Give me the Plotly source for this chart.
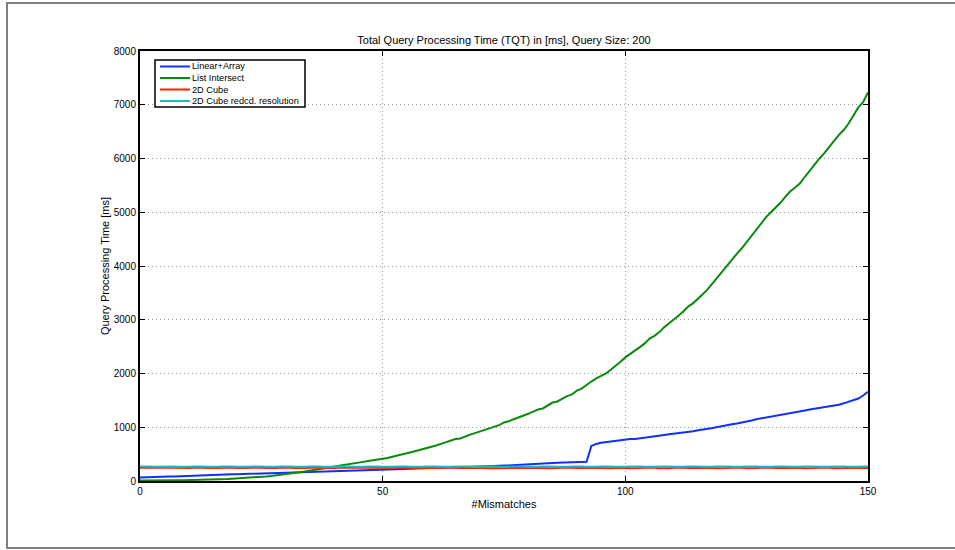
import plotly.graph_objects as go

series_names = ["Linear+Array", "List Intersect", "2D Cube", "2D Cube redcd. resolution"]
series_colors = ["#1030ff", "#0a8a0a", "#ff2000", "#10c0c0"]

linear_array = [
    65, 70, 72, 75, 78, 80, 83, 86, 88, 90, 92,
    95, 98, 100, 103, 106, 110, 116, 120, 124, 127,
    130, 134, 137, 140, 143, 146, 150, 153, 157, 162,
    166, 170, 174, 178, 181, 183, 186, 188, 190, 192,
    194, 196, 198, 200, 203, 205, 208, 212, 216, 220,
    222, 220, 224, 226, 228, 230, 232, 234, 236, 238,
    240, 242, 244, 246, 250, 254, 258, 262, 266, 270,
    272, 275, 278, 282, 286, 290, 292, 295, 298, 302,
    310, 318, 326, 330, 334, 340, 344, 346, 348, 350,
    352, 356, 650, 690, 712, 725, 735, 748, 762, 775,
    780, 782, 792, 805, 815, 822, 838, 855, 868, 878,
    888, 898, 912, 925, 945, 955, 968, 985, 1005, 1025,
    1040, 1055, 1070, 1085, 1100, 1125, 1150, 1165, 1180, 1200,
    1215, 1228, 1245, 1262, 1278, 1290, 1310, 1330, 1345, 1358,
    1368, 1382, 1398, 1420, 1445, 1475, 1505, 1535, 1590, 1660,
]

list_intersect = [
    10, 9, 11, 10, 12, 11, 13, 12, 14, 15, 16,
    18, 20, 21, 23, 25, 28, 31, 35, 40, 45,
    50, 56, 62, 68, 78, 86, 95, 104, 116, 130,
    140, 152, 163, 176, 190, 205, 218, 232, 250, 270,
    282, 296, 310, 326, 342, 356, 370, 382, 396, 410,
    428, 452, 470, 492, 520, 538, 562, 584, 610, 640,
    662, 690, 718, 748, 780, 790, 830, 862, 890, 920,
    952, 985, 1010, 1040, 1090, 1110, 1150, 1180, 1210, 1250,
    1290, 1330, 1350, 1400, 1460, 1480, 1530, 1580, 1610, 1680,
    1720, 1790, 1850, 1910, 1960, 2000, 2070, 2140, 2220, 2300,
    2360, 2430, 2490, 2560, 2650, 2700, 2770, 2860, 2930, 3000,
    3080, 3160, 3250, 3310, 3390, 3480, 3570, 3680, 3800, 3920,
    4020, 4120, 4230, 4330, 4450, 4560, 4680, 4800, 4910, 5000,
    5090, 5180, 5290, 5390, 5460, 5540, 5660, 5780, 5890, 6000,
    6100, 6220, 6330, 6440, 6530, 6650, 6800, 6950, 7050, 7230,
]

cube_2d = [
    245, 248, 244, 240, 243, 247, 250, 246, 241, 238, 242, 246, 249, 245, 240, 236, 240, 245, 250, 247,
    243, 239, 241, 246, 251, 248, 242, 238, 241, 245, 249, 246, 240, 237, 242, 247, 250, 245, 241, 238,
    243, 248, 246, 241, 237, 240, 245, 249, 244, 239,
    236, 241, 247, 250, 246, 240, 237, 242, 248, 245, 239, 235, 240, 246, 250, 247, 242, 238, 242, 247,
    249, 244, 239, 236, 241, 246, 250, 246, 240, 236,
    241, 247, 249, 244, 238, 235, 240, 246, 250, 245, 240, 237, 242, 247, 244, 238, 234, 239, 245, 248,
    244, 239, 236, 241, 246, 249, 245, 239, 235, 239,
    245, 249, 246, 240, 236, 241, 247, 250, 244, 238, 235, 240, 246, 249, 245, 239, 236, 241, 247, 250,
    246, 240, 236, 240, 246, 249, 244, 238, 235, 240,
    246, 250, 245, 239, 236, 241, 247, 249, 244, 240, 243,
]

cube_2d_reduced = [
    270, 274, 268, 264, 267, 272, 276, 271, 266, 262, 266, 271, 275, 270, 265, 262, 266, 271, 276, 272,
    267, 263, 266, 271, 275, 271, 266, 262, 265, 270, 275, 271, 266, 262, 266, 271, 274, 269, 264, 261,
    265, 270, 274, 270, 265, 262, 266, 272, 276, 271,
    266, 262, 267, 272, 275, 270, 265, 261, 265, 271, 275, 271, 266, 262, 266, 272, 276, 271, 266, 262,
    267, 272, 274, 269, 264, 261, 266, 271, 275, 270,
    265, 262, 266, 271, 276, 272, 267, 263, 266, 271, 274, 270, 265, 261, 265, 270, 275, 271, 266, 262,
    266, 271, 275, 270, 265, 262, 267, 272, 276, 271,
    266, 262, 266, 271, 274, 269, 264, 261, 266, 271, 275, 271, 266, 262, 266, 272, 275, 270, 265, 262,
    266, 271, 276, 272, 267, 263, 266, 270, 274, 270,
    265, 262, 266, 271, 275, 271, 266, 262, 266, 270, 272,
]

x_ticks = [0, 50, 100, 150]
y_ticks = [0, 1000, 2000, 3000, 4000, 5000, 6000, 7000, 8000]

FONT = "Liberation Sans, Arial, Helvetica, sans-serif"

# plot-area geometry in pixels (for paper-coordinate conversion of decorations)
PL, PR, PT, PB = 140, 868, 51, 481


def px(xp):
    return (xp - PL) / (PR - PL)


def py(yp):
    return (PB - yp) / (PB - PT)


fig = go.Figure()
for name, color, vals in zip(series_names, series_colors,
                             [linear_array, list_intersect, cube_2d, cube_2d_reduced]):
    fig.add_trace(go.Scatter(
        x=list(range(len(vals))), y=vals, mode="lines", name=name,
        line=dict(color=color, width=2), showlegend=False,
    ))

axis_common = dict(
    showline=True, linecolor="black", linewidth=2, mirror="ticks",
    ticks="inside", ticklen=5, tickwidth=1, tickcolor="black",
    showgrid=True, gridcolor="#9a9a9a", griddash="1px,3px", gridwidth=1,
    zeroline=False, tickfont=dict(family=FONT, size=10, color="black"),
)

fig.update_layout(
    width=955, height=550,
    margin=dict(l=PL, r=955 - PR, t=PT, b=550 - PB, autoexpand=False),
    paper_bgcolor="white", plot_bgcolor="white",
    font=dict(family=FONT, size=10, color="black"),
    title=dict(text="Total Query Processing Time (TQT) in [ms], Query Size: 200",
               x=0.5, xref="paper", xanchor="center", y=1 - 40 / 550, yanchor="middle",
               font=dict(family=FONT, size=11, color="black")),
    xaxis=dict(range=[0, 150], tickvals=x_ticks,
               title=dict(text="#Mismatches", standoff=4, font=dict(family=FONT, size=11)),
               **axis_common),
    yaxis=dict(range=[0, 8000], tickvals=y_ticks,
               title=dict(text="Query Processing Time [ms]", standoff=2, font=dict(family=FONT, size=11)),
               **axis_common),
    showlegend=False,
)

# outer figure frame
fig.add_shape(type="rect", xref="paper", yref="paper",
              x0=px(7), x1=px(956), y0=py(548), y1=py(3),
              line=dict(color="#808080", width=2), fillcolor="rgba(0,0,0,0)", layer="below")

# compact legend box (drawn to match the original layout)
fig.add_shape(type="rect", xref="paper", yref="paper",
              x0=px(155), x1=px(305), y0=py(107), y1=py(60),
              line=dict(color="black", width=1.5), fillcolor="white", layer="above")
row_y = [66.5, 78, 89.5, 101]
for name, color, ry in zip(series_names, series_colors, row_y):
    fig.add_shape(type="line", xref="paper", yref="paper",
                  x0=px(160), x1=px(190), y0=py(ry), y1=py(ry),
                  line=dict(color=color, width=2), layer="above")
    fig.add_annotation(text=name, xref="paper", yref="paper",
                       x=px(190), y=py(ry), xanchor="left", yanchor="middle",
                       showarrow=False, font=dict(family=FONT, size=9.2, color="black"))

fig.write_html("out.html")
